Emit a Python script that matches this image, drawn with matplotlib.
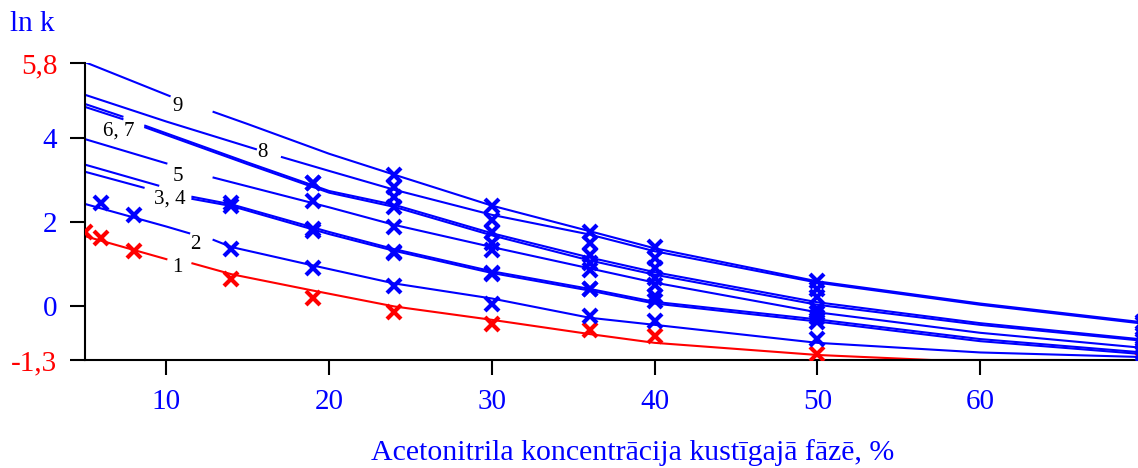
import numpy as np
import matplotlib.pyplot as plt

plt.rcParams['font.family'] = 'Liberation Serif'

# aproksimējošās līknes ln k (nan - pārtraukums zem numura)
x1 = [5, 10, np.nan, 11.6, 14, 19, 24, 30, 36, 40, 50, 57, 65, 70]
y1 = [1.66, 1.11, np.nan, 1.01, 0.75, 0.36, -0.02, -0.34, -0.68, -0.89, -1.18, -1.30, -1.30, -1.33]

x2 = [5, 10, 11.4, np.nan, 12.9, 14, 19, 24, 30, 36, 40, 50, 60, 70]
y2 = [2.43, 1.89, 1.73, np.nan, 1.57, 1.40, 0.96, 0.53, 0.17, -0.29, -0.46, -0.89, -1.12, -1.23]

x3 = [5, 9.5, np.nan, 11.6, 14, 20, 24, 30, 36, 40, 50, 60, 70]
y3 = [3.37, 2.87, np.nan, 2.60, 2.42, 1.76, 1.35, 0.82, 0.40, 0.09, -0.33, -0.80, -1.12]

x4 = [5, 8.6, np.nan, 11.6, 14, 20, 24, 30, 36, 40, 50, 60, 70]
y4 = [3.20, 2.82, np.nan, 2.55, 2.38, 1.71, 1.31, 0.78, 0.36, 0.05, -0.38, -0.85, -1.16]

x5 = [5, 10, np.nan, 12.9, 15, 20, 24, 30, 36, 40, 50, 60, 70]
y5 = [3.98, 3.40, np.nan, 3.06, 2.85, 2.35, 1.93, 1.40, 0.89, 0.55, -0.16, -0.65, -1.01]

x6 = [5, 7.3, np.nan, 8.7, 15, 20, 24, 30, 36, 40, 50, 60, 70]
y6 = [4.82, 4.52, np.nan, 4.30, 3.42, 2.74, 2.41, 1.73, 1.15, 0.80, 0.08, -0.42, -0.81]

x7 = [5, 7.3, np.nan, 8.7, 15, 20, 24, 30, 36, 40, 50, 60, 70]
y7 = [4.75, 4.46, np.nan, 4.26, 3.38, 2.70, 2.36, 1.68, 1.08, 0.74, 0.02, -0.46, -0.84]

x8 = [5, 10, 15.5, np.nan, 17.1, 20, 24, 30, 36, 40, 50, 60, 70]
y8 = [5.04, 4.40, 3.74, np.nan, 3.55, 3.22, 2.77, 2.17, 1.70, 1.30, 0.55, 0.02, -0.43]

x9 = [5, 10.2, np.nan, 12.9, 15, 20, 24, 30, 36, 40, 50, 60, 70]
y9 = [5.82, 5.01, np.nan, 4.63, 4.34, 3.63, 3.13, 2.39, 1.78, 1.37, 0.58, 0.05, -0.40]

# eksperimentālie punkti
px1 = [5, 6, 8, 14, 19, 24, 30, 36, 40, 50, 70]
py1 = [1.76, 1.61, 1.30, 0.63, 0.19, -0.15, -0.43, -0.58, -0.72, -1.15, -1.31]
px2 = [6, 8, 14, 19, 24, 30, 36, 40, 50, 70]
py2 = [2.46, 2.17, 1.35, 0.89, 0.46, 0.05, -0.24, -0.36, -0.80, -1.22]
px34 = [14, 19, 24, 30, 36, 40, 50, 70]
py3 = [2.45, 1.83, 1.28, 0.77, 0.40, 0.24, -0.28, -1.12]
py4 = [2.38, 1.79, 1.25, 0.75, 0.40, 0.12, -0.38, -1.16]
px567 = [19, 24, 30, 36, 40, 50, 70]
py5 = [2.49, 1.88, 1.33, 0.84, 0.50, -0.18, -1.01]
py6 = [2.94, 2.60, 1.76, 1.20, 0.89, 0.20, -0.81]
py7 = [2.94, 2.36, 1.49, 1.01, 0.65, -0.08, -0.84]
px89 = [24, 30, 36, 40, 50, 70]
py8 = [2.84, 2.05, 1.49, 1.15, 0.40, -0.43]
py9 = [3.13, 2.39, 1.76, 1.40, 0.60, -0.40]

# līkņu numuri
labels = ['1', '2', '3, 4', '5', '6, 7', '8', '9']
label_x = [10.65, 11.76, 10.22, 10.71, 7.09, 15.93, 10.71]
label_y = [0.92, 1.45, 2.54, 3.09, 4.17, 3.67, 4.75]

yticks = [-1.3, 0, 2, 4, 5.8]
ytick_labels = ['-1,3', '0', '2', '4', '5,8']
xticks = [10, 20, 30, 40, 50, 60]

fig = plt.figure(figsize=(11.38, 4.68), dpi=100)
ax = fig.add_axes([0.0747, 0.2308, 0.9253, 0.6346])

lw = 1.5
ax.plot(x1, y1, color='red', lw=lw)
for xs, ys in [(x2, y2), (x3, y3), (x4, y4), (x5, y5), (x6, y6),
               (x7, y7), (x8, y8), (x9, y9)]:
    ax.plot(xs, ys, color='blue', lw=lw)

mk = dict(marker='x', linestyle='none', markersize=10, mew=3, zorder=5)
ax.plot(px1, py1, color='red', **mk)
ax.plot(px2, py2, color='blue', **mk)
for ys in [py3, py4]:
    ax.plot(px34, ys, color='blue', **mk)
for ys in [py5, py6, py7]:
    ax.plot(px567, ys, color='blue', **mk)
for ys in [py8, py9]:
    ax.plot(px89, ys, color='blue', **mk)

for t, lx, ly in zip(labels, label_x, label_y):
    ax.text(lx, ly, t, fontsize=15, ha='center', va='center', color='black')

ax.set_xlim(5, 69.7)
ax.set_ylim(-1.3, 5.8)

ax.spines['top'].set_visible(False)
ax.spines['right'].set_visible(False)
ax.spines['left'].set_linewidth(1.5)
ax.spines['bottom'].set_linewidth(1.5)

ax.set_xticks(xticks)
ax.set_xticklabels([str(v) for v in xticks])
ax.set_yticks(yticks)
ax.set_yticklabels(ytick_labels)
ax.tick_params(axis='both', direction='out', length=11, width=1.5,
               labelsize=21, labelcolor='blue')
ax.tick_params(axis='x', pad=10)
ax.tick_params(axis='y', pad=9)

# galējās vērtības sarkanā krāsā
for i in [0, len(yticks) - 1]:
    ax.get_yticklabels()[i].set_color('red')
    ax.yaxis.get_major_ticks()[i].tick1line.set_color('red')

fig.text(0.009, 0.949, 'ln k', fontsize=21, color='blue', va='center', ha='left')
fig.text(0.556, 0.034, 'Acetonitrila koncentrācija kustīgajā fāzē, %',
         fontsize=21.5, color='blue', ha='center', va='center')

fig.savefig('out.png', dpi=100)
